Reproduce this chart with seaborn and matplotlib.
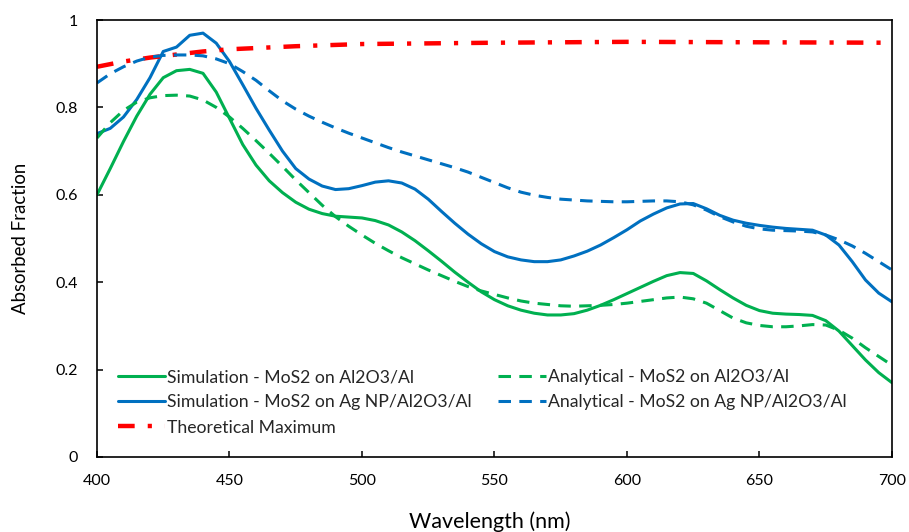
import numpy as np
import pandas as pd
import seaborn as sns
import matplotlib.pyplot as plt

# wavelength grid (nm) shared by the four MoS2 curves
wavelength = list(range(400, 701, 5))

sim_al = [0.600, 0.660, 0.722, 0.780, 0.830, 0.868, 0.884, 0.887, 0.878, 0.835,
          0.775, 0.715, 0.668, 0.632, 0.605, 0.583, 0.567, 0.557, 0.551, 0.549,
          0.547, 0.541, 0.531, 0.515, 0.495, 0.472, 0.448, 0.423, 0.400, 0.378,
          0.360, 0.346, 0.336, 0.329, 0.325, 0.325, 0.328, 0.336, 0.347, 0.360,
          0.374, 0.388, 0.402, 0.415, 0.422, 0.420, 0.403, 0.383, 0.364, 0.347,
          0.335, 0.329, 0.327, 0.326, 0.324, 0.312, 0.288, 0.255, 0.222, 0.193,
          0.170]

ana_al = [0.730, 0.765, 0.793, 0.812, 0.822, 0.827, 0.828, 0.826, 0.817, 0.800,
          0.778, 0.752, 0.724, 0.695, 0.665, 0.634, 0.605, 0.576, 0.550, 0.528,
          0.508, 0.489, 0.472, 0.456, 0.442, 0.428, 0.415, 0.402, 0.390, 0.380,
          0.372, 0.364, 0.357, 0.352, 0.349, 0.346, 0.345, 0.346, 0.347, 0.349,
          0.352, 0.356, 0.360, 0.364, 0.366, 0.362, 0.352, 0.335, 0.318, 0.307,
          0.301, 0.298, 0.298, 0.300, 0.303, 0.302, 0.290, 0.272, 0.250, 0.230,
          0.210]

sim_ag = [0.740, 0.752, 0.778, 0.818, 0.868, 0.928, 0.938, 0.965, 0.970, 0.947,
          0.905, 0.852, 0.798, 0.748, 0.700, 0.660, 0.636, 0.620, 0.612, 0.614,
          0.621, 0.629, 0.632, 0.627, 0.613, 0.590, 0.562, 0.535, 0.510, 0.488,
          0.470, 0.458, 0.451, 0.447, 0.447, 0.451, 0.460, 0.471, 0.485, 0.502,
          0.520, 0.540, 0.556, 0.570, 0.579, 0.580, 0.568, 0.553, 0.542, 0.535,
          0.530, 0.526, 0.523, 0.521, 0.519, 0.508, 0.485, 0.447, 0.405, 0.375,
          0.355]

ana_ag = [0.856, 0.877, 0.893, 0.906, 0.915, 0.919, 0.920, 0.920, 0.918, 0.911,
          0.900, 0.882, 0.862, 0.838, 0.815, 0.796, 0.780, 0.766, 0.753, 0.741,
          0.730, 0.719, 0.708, 0.698, 0.689, 0.680, 0.671, 0.662, 0.652, 0.640,
          0.628, 0.616, 0.606, 0.599, 0.594, 0.590, 0.588, 0.586, 0.585, 0.584,
          0.584, 0.585, 0.586, 0.586, 0.584, 0.577, 0.565, 0.550, 0.538, 0.528,
          0.522, 0.519, 0.518, 0.517, 0.515, 0.508, 0.497, 0.483, 0.466, 0.447,
          0.428]

theo_wl = [400, 410, 420, 430, 440, 450, 475, 500, 550, 600, 650, 700]
theo_max = [0.893, 0.905, 0.914, 0.921, 0.928, 0.933, 0.940, 0.945, 0.948, 0.950, 0.949, 0.948]

x_ticks = [400, 450, 500, 550, 600, 650, 700]
y_ticks = [0, 0.2, 0.4, 0.6, 0.8, 1]
y_ticklabels = ["0", "0.2", "0.4", "0.6", "0.8", "1"]

green = "#00B050"
blue = "#0070C0"
red = "#FF0000"

sns.set_style("white")
plt.rcParams["font.family"] = ["Lato", "DejaVu Sans"]
plt.rcParams["lines.scale_dashes"] = False

fig = plt.figure(figsize=(9.09, 5.32), dpi=100)
ax = fig.add_axes([0.1067, 0.141, 0.8746, 0.8214])

df = pd.DataFrame({"wl": wavelength, "sim_al": sim_al, "ana_al": ana_al,
                   "sim_ag": sim_ag, "ana_ag": ana_ag})
df_theo = pd.DataFrame({"wl": theo_wl, "val": theo_max})

lw = 2.2
dash = (0, (9.0, 6.0))
sns.lineplot(data=df, x="wl", y="sim_al", ax=ax, color=green, linewidth=lw,
             label="Simulation - MoS2 on Al2O3/Al")
sns.lineplot(data=df, x="wl", y="sim_ag", ax=ax, color=blue, linewidth=lw,
             label="Simulation - MoS2 on Ag NP/Al2O3/Al")
sns.lineplot(data=df_theo, x="wl", y="val", ax=ax, color=red, linewidth=3.2,
             label="Theoretical Maximum", linestyle=(0, (12.0, 9.4, 3.0, 9.4)),
             dash_capstyle="butt")
sns.lineplot(data=df, x="wl", y="ana_al", ax=ax, color=green, linewidth=lw,
             label="Analytical - MoS2 on Al2O3/Al", linestyle=dash)
sns.lineplot(data=df, x="wl", y="ana_ag", ax=ax, color=blue, linewidth=lw,
             label="Analytical - MoS2 on Ag NP/Al2O3/Al", linestyle=dash)

ax.set_xlim(400, 700)
ax.set_ylim(0, 1)
ax.set_xticks(x_ticks)
ax.set_yticks(y_ticks)
ax.set_yticklabels(y_ticklabels)

for s in ax.spines.values():
    s.set_color("black")
    s.set_linewidth(1.2)
    s.set_visible(True)

ax.tick_params(axis="both", which="both", direction="in", length=4.5, width=1.1,
               colors="black", labelsize=11.5, bottom=True, left=True, top=False, right=False)
ax.tick_params(axis="y", pad=14)
ax.tick_params(axis="x", pad=12)

ax.set_xlabel("Wavelength (nm)", fontsize=15.5, color="black")
ax.set_ylabel("Absorbed Fraction", fontsize=13.4, color="black")
ax.xaxis.set_label_coords(0.494, -0.124)
ax.yaxis.set_label_coords(-0.086, 0.50)

handles, labels = ax.get_legend_handles_labels()
ax.legend(handles, labels, ncol=2, loc="upper left", bbox_to_anchor=(0.017, 0.217),
          frameon=False, fontsize=12.7, handlelength=2.7, handletextpad=0.12,
          columnspacing=1.5, labelspacing=0.52, borderaxespad=0)

fig.savefig("out.png", dpi=100)
